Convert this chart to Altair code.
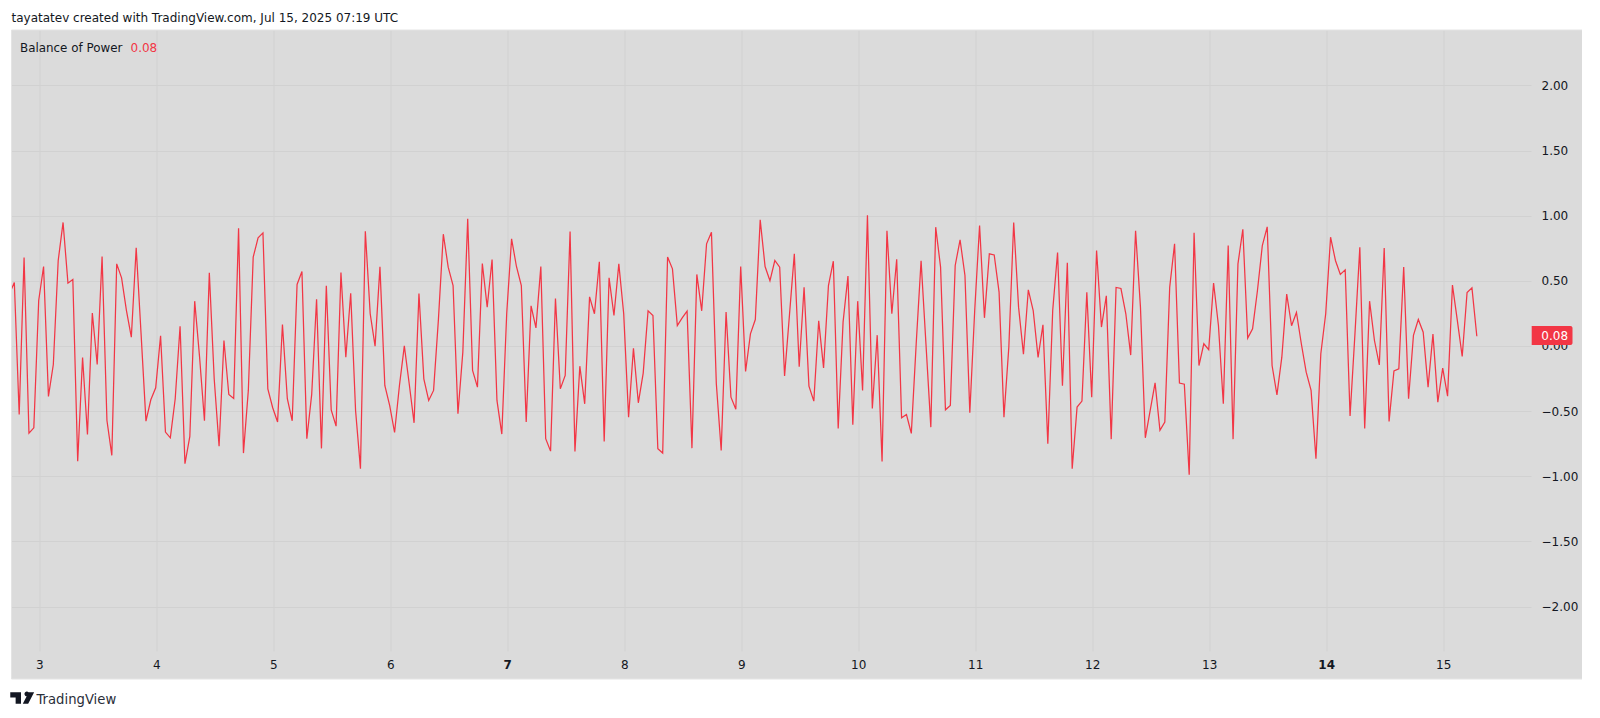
import altair as alt
import pandas as pd

ZOOM_ZERO = 436.5
ZOOM_UNIT = 391

# curve, in reference-crop pixels, converted to BOP values below
read_1 = [280,246,642,171,698,682,300,198,588,492,180,66,248,237,782,471,702,338,492,168,660,765,190,232,330,410,142,400,662,598,562,406,695,712,595,377,790,708,302,470,661,217,535,737,420,582,594,83,758,570,170,112,97,565,622,665,372,595,661,252,213,715,582,296,744,256,628,677,216,470,278,630,805,92,340,437,199,555,615,696]
read_2 = [555,436,550,667,279,535,600,570,355,101,200,255,640,455,55,510,560,189,320,177,600,701,340,115,198,255,665,316,382,198,715,752,294,565,525,93,753,497,610,289,340,184,723,232,345,190,340,650,443,607,518,331,345,745,758,170,205,375,352,332,743,222,331,130,95,550,750,335,590,626,198,513,400,357,58,198,241,180,200,527]
read_3 = [344,160,499,260,557,602,361,502,255,182,684,365,227,673,302,570,44,624,404,783,91,340,176,652,642,699,430,181,430,680,80,200,628,615,195,118,225,637,330,75,352,160,163,275,650,440,66,320,461,268,330,471,373,730,330,156,556,187,805,620,602,275,590,150,380,286,716,261,264,340,464,91,320,712,630,547,690,665,260,130]
read_4 = [548,551,823,97,495,430,448,248,375,610,135,716,190,86,413,385,270,135,79,495,583,470,281,376,336,430,515,570,775,460,340,110,180,222,208,647,400,140,684,302,420,493,143,663,511,505,200,595,405,357,395,560,401,605,503,587,254,360,468,276,262,407]

bop = [round((ZOOM_ZERO - v) / ZOOM_UNIT, 3) for v in read_1 + read_2 + read_3 + read_4]

last_day = 15 + 7 / 24 - 0.0043
days = [round(last_day - (len(bop) - 1 - i) / 24, 4) for i in range(len(bop))]

x_ticks = list(range(3, 16))
y_ticks = [-2.0, -1.5, -1.0, -0.5, 0.0, 0.5, 1.0, 1.5, 2.0]

FONT = "DejaVu Sans"
RED = "#f23645"
GREY = "#dbdbdb"
GRID = "#d1d1d1"
TEXT = "#131722"

W, H = 1519.5, 621
x_scale = alt.Scale(domain=[2.7632, 15.7504], nice=False, zero=False)
y_scale = alt.Scale(domain=[-2.341, 2.425], nice=False, zero=False)

df = pd.DataFrame({"day": days, "bop": bop})

line = alt.Chart(df).mark_line(color=RED, strokeWidth=1.25, clip=True, interpolate="linear").encode(
    x=alt.X("day:Q", scale=x_scale, title=None, axis=alt.Axis(
        values=x_ticks, format="d", grid=True, gridColor=GRID, gridWidth=1,
        domain=False, ticks=False, labelPadding=8, labelFont=FONT, labelFontSize=12,
        labelColor=TEXT, labelFlush=False,
        labelFontWeight={"condition": {"test": "datum.value == 7 || datum.value == 14", "value": "bold"}, "value": "normal"},
    )),
    y=alt.Y("bop:Q", scale=y_scale, title=None, axis=alt.Axis(
        orient="right", values=y_ticks, format=".2f", grid=True, gridColor=GRID, gridWidth=1,
        domain=False, ticks=False, labelPadding=10, labelFont=FONT, labelFontSize=12,
        labelColor=TEXT, labelAlign="left",
    )),
)

def strip(x0, x1, y0, y1):
    return alt.Chart(pd.DataFrame({"a": [0]})).mark_rect(color="white", clip=False).encode(
        x=alt.value(x0), x2=alt.value(x1), y=alt.value(y0), y2=alt.value(y1))

strips = [
    strip(-4, 1577, -22, 0),
    strip(-4, 0, -22, 690),
    strip(1577, 1581, -22, 690),
    strip(-4, 1581, 649, 690),
]

border = alt.Chart(pd.DataFrame({"a": [0]})).mark_rect(
    fill=None, stroke="#e4e4e4", strokeWidth=1, clip=False,
).encode(x=alt.value(0), x2=alt.value(1577), y=alt.value(0), y2=alt.value(649))

def label(text, x, y, size=12, color=TEXT, weight="normal", align="left"):
    return alt.Chart(pd.DataFrame({"t": [text]})).mark_text(
        align=align, baseline="middle", font=FONT, fontSize=size, color=color, fontWeight=weight, clip=False,
    ).encode(x=alt.value(x), y=alt.value(y), text="t:N")

badge = alt.Chart(pd.DataFrame({"a": [0.153], "b": [0.008]})).mark_rect(
    color=RED, clip=False, cornerRadiusTopRight=2, cornerRadiusBottomRight=2,
).encode(
    x=alt.value(1520.2), x2=alt.value(1561),
    y=alt.Y("a:Q", scale=y_scale), y2="b:Q",
)
badge_text = alt.Chart(pd.DataFrame({"v": [0.08], "t": ["0.08"]})).mark_text(
    align="left", baseline="middle", font=FONT, fontSize=12, color="white", clip=False,
).encode(x=alt.value(1529.8), y=alt.Y("v:Q", scale=y_scale), text="t:N")

logo = alt.Chart(pd.DataFrame({"a": [0]})).mark_point(
    filled=True, color=TEXT, opacity=1, size=570, clip=False,
    shape="M-1 -0.48 H-0.1 V0.48 H-0.55 V-0.04 H-1 Z M0.25 -0.48 A0.2 0.2 0 1 1 0.249 -0.479 Z M0.55 -0.48 H1 L0.5 0.48 H0.05 Z",
).encode(x=alt.value(10.7), y=alt.value(668))

chart = alt.layer(
    line,
    *strips,
    border,
    label("tayatatev created with TradingView.com, Jul 15, 2025 07:19 UTC", 0, -12, size=12),
    label("Balance of Power", 8.5, 17.5, size=11.9),
    label("0.08", 119, 17.5, size=12, color=RED),
    label("TradingView", 25, 669.5, size=13.2, color="#2a2e39"),
    badge, badge_text, logo,
).properties(
    width=W, height=H, background=GREY,
    padding={"left": 3.5, "top": 22, "right": 50.5, "bottom": 59},
    autosize=alt.AutoSizeParams(type="none"),
).configure_view(stroke=None)

chart.save("out.html", embed_options={"renderer": "svg", "actions": False})
